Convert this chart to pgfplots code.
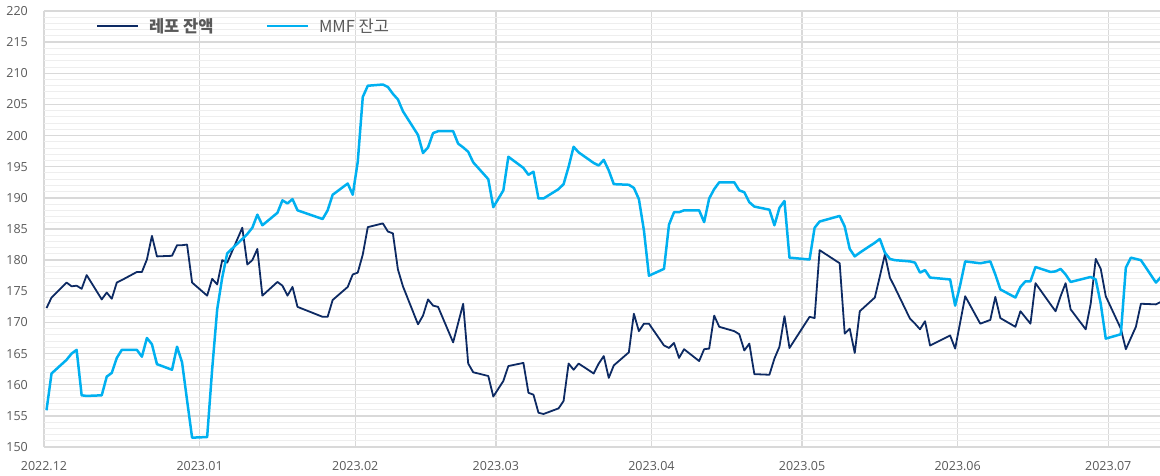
\documentclass[border=0pt]{standalone}
\usepackage{fontspec}
\setmainfont{Open Sans}
\newfontfamily\kr{Noto Sans CJK KR}
\usepackage{pgfplots}
\pgfplotsset{compat=1.18}
\definecolor{repo}{HTML}{0D2A63}
\definecolor{mmf}{HTML}{00B0F0}
\definecolor{majgrid}{HTML}{D9D9D9}
\definecolor{mingrid}{HTML}{EEEEEE}
\definecolor{txt}{HTML}{595959}
\begin{document}
\begin{tikzpicture}
\path[use as bounding box] (-44pt,-28pt) rectangle (1116pt,447pt);
\begin{axis}[
  scale only axis, width=1116pt, height=436pt,
  xmin=0, xmax=222.3, ymin=150, ymax=220,
  xtick={0,31,62,90,121,151,182,212},
  xticklabels={2022.12,2023.01,2023.02,2023.03,2023.04,2023.05,2023.06,2023.07},
  ytick={150,155,...,220},
  minor ytick={151,152,...,219},
  xmajorgrids, ymajorgrids, yminorgrids,
  major grid style={majgrid, line width=1.5pt},
  minor grid style={mingrid, line width=1pt},
  axis line style={draw=none},
  major tick length=0pt, minor tick length=0pt,
  tick label style={font=\fontsize{12.5}{14}\selectfont, text=txt},
  /pgf/number format/assume math mode=true,
  yticklabel style={anchor=east, inner sep=0pt, xshift=-16pt},
  xticklabel style={anchor=north, inner sep=0pt, yshift=-14pt},
  legend style={at={(axis description cs:0.0466,0.9656)}, anchor=west, draw=none, fill=none, inner sep=0pt,
    font=\kr\fontsize{16.5}{18}\selectfont, text=txt,
    /tikz/every even column/.append style={column sep=50pt}},
  legend columns=2,
  legend image code/.code={\draw[#1] (0pt,0pt) -- (41pt,0pt); \path (49pt,0pt);},
  line join=round,
]
\addplot[repo, line width=1.8pt] coordinates {
(0.5,172.3) (1.5,174.0) (4.5,176.4) (5.5,175.8) (6.5,175.9) (7.5,175.4) (8.5,177.6)
(11.5,173.7) (12.5,174.8) (13.5,173.8) (14.5,176.4) (15.5,176.8) (18.5,178.1) (19.5,178.1)
(20.5,180.1) (21.5,183.9) (22.5,180.6) (25.5,180.7) (26.5,182.4) (27.5,182.4) (28.5,182.5)
(29.5,176.4) (32.5,174.3) (33.5,177.0) (34.5,176.1) (35.5,180.0) (36.5,179.6) (39.5,185.2)
(40.5,179.3) (41.5,180.0) (42.5,181.8) (43.5,174.3) (46.5,176.5) (47.5,175.9) (48.5,174.3)
(49.5,175.7) (50.5,172.5) (55.5,170.9) (56.5,170.9) (57.5,173.6) (60.5,175.7) (61.5,177.7)
(62.5,178.0) (63.5,180.9) (64.5,185.3) (67.5,185.9) (68.5,184.6) (69.5,184.3) (70.5,178.5)
(71.5,175.8) (74.5,169.7) (75.5,171.1) (76.5,173.7) (77.5,172.7) (78.5,172.5) (81.5,166.8)
(82.5,169.9) (83.5,173.0) (84.5,163.4) (85.5,162.0) (88.5,161.4) (89.5,158.1) (91.5,160.6)
(92.5,163.0) (95.5,163.5) (96.5,158.7) (97.5,158.4) (98.5,155.5) (99.5,155.3) (102.5,156.2)
(103.5,157.4) (104.5,163.4) (105.5,162.4) (106.5,163.4) (109.5,161.8) (110.5,163.4)
(111.5,164.6) (112.5,161.1) (113.5,163.1) (116.5,165.2) (117.5,171.4) (118.5,168.6)
(119.5,169.8) (120.5,169.8) (123.5,166.3) (124.5,165.9) (125.5,166.7) (126.5,164.3)
(127.5,165.7) (130.5,163.8) (131.5,165.7) (132.5,165.8) (133.5,171.1) (134.5,169.3)
(137.5,168.6) (138.5,168.1) (139.5,165.5) (140.5,166.6) (141.5,161.7) (144.5,161.6)
(145.5,164.2) (146.5,166.1) (147.5,171.0) (148.5,165.9) (152.5,170.9) (153.5,170.7)
(154.5,181.6) (158.5,179.5) (159.5,168.2) (160.5,169.0) (161.5,165.1) (162.5,171.8)
(165.5,174.0) (166.5,177.4) (167.5,180.9) (168.5,177.2) (169.5,175.6) (172.5,170.6)
(173.5,169.8) (174.5,168.9) (175.5,170.2) (176.5,166.3) (180.5,167.9) (181.5,165.8)
(182.5,170.0) (183.5,174.2) (186.5,169.8) (188.5,170.4) (189.5,174.1) (190.5,170.7)
(193.5,169.3) (194.5,171.8) (195.5,170.8) (196.5,169.8) (197.5,176.3) (200.5,172.9)
(201.5,171.8) (202.5,174.2) (203.5,176.3) (204.5,172.1) (207.5,168.9) (208.5,173.0)
(209.5,180.2) (210.5,178.6) (211.5,174.2) (214.5,169.0) (215.5,165.7) (216.5,167.5)
(217.5,169.3) (218.5,173.0) (221.5,172.9) (222.5,173.3)
};
\addlegendentry{\textbf{레포 잔액}}
\addplot[mmf, line width=2.5pt] coordinates {
(0.5,155.9) (1.5,161.8) (4.5,164.0) (5.5,165.0) (6.5,165.6) (7.5,158.3) (8.5,158.2)
(11.5,158.3) (12.5,161.3) (13.5,161.9) (14.5,164.3) (15.5,165.6) (18.5,165.6) (19.5,164.5)
(20.5,167.5) (21.5,166.5) (22.5,163.3) (25.5,162.4) (26.5,166.1) (27.5,163.6) (28.5,157.5)
(29.5,151.5) (32.5,151.6) (33.5,162.5) (34.5,172.1) (35.5,177.2) (36.5,181.1) (39.5,183.4)
(40.5,184.2) (41.5,185.2) (42.5,187.3) (43.5,185.6) (46.5,187.6) (47.5,189.6) (48.5,189.1)
(49.5,189.8) (50.5,188.0) (55.5,186.6) (56.5,188.0) (57.5,190.5) (60.5,192.3) (61.5,190.5)
(62.5,195.8) (63.5,206.2) (64.5,208.0) (67.5,208.2) (68.5,207.8) (69.5,206.7) (70.5,205.8)
(71.5,203.9) (74.5,200.1) (75.5,197.2) (76.5,198.1) (77.5,200.4) (78.5,200.7) (81.5,200.7)
(82.5,198.7) (83.5,198.1) (84.5,197.4) (85.5,195.7) (88.5,193.0) (89.5,188.5) (91.5,191.2)
(92.5,196.6) (95.5,194.8) (96.5,193.7) (97.5,194.2) (98.5,189.9) (99.5,189.9) (102.5,191.4)
(103.5,192.2) (104.5,195.0) (105.5,198.2) (106.5,197.3) (109.5,195.6) (110.5,195.2)
(111.5,196.1) (112.5,194.4) (113.5,192.2) (116.5,192.1) (117.5,191.6) (118.5,189.8)
(119.5,184.8) (120.5,177.5) (123.5,178.6) (124.5,185.7) (125.5,187.7) (126.5,187.7)
(127.5,188.0) (130.5,188.0) (131.5,186.1) (132.5,189.9) (133.5,191.4) (134.5,192.5)
(137.5,192.5) (138.5,191.2) (139.5,190.9) (140.5,189.3) (141.5,188.6) (144.5,188.1)
(145.5,185.6) (146.5,188.4) (147.5,189.5) (148.5,180.4) (152.5,180.1) (153.5,185.2)
(154.5,186.2) (158.5,187.1) (159.5,185.4) (160.5,181.8) (161.5,180.6) (162.5,181.2)
(165.5,182.8) (166.5,183.4) (167.5,181.2) (168.5,180.2) (169.5,180.0) (172.5,179.8)
(173.5,179.6) (174.5,178.0) (175.5,178.4) (176.5,177.2) (180.5,176.9) (181.5,172.7)
(182.5,176.0) (183.5,179.8) (186.5,179.5) (188.5,179.8) (189.5,177.7) (190.5,175.3)
(193.5,174.0) (194.5,175.7) (195.5,176.6) (196.5,176.6) (197.5,178.9) (200.5,178.1)
(201.5,178.2) (202.5,178.6) (203.5,177.7) (204.5,176.5) (207.5,177.1) (208.5,177.3)
(209.5,176.9) (210.5,173.0) (211.5,167.4) (214.5,168.1) (215.5,178.8) (216.5,180.4)
(217.5,180.2) (218.5,180.0) (221.5,176.4) (222.5,177.3)
};
\addlegendentry{MMF 잔고}
\end{axis}
\end{tikzpicture}
\end{document}
